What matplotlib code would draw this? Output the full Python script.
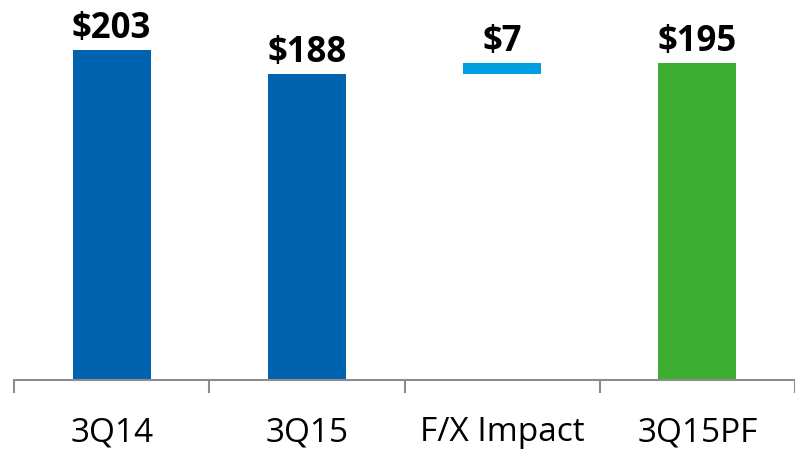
import matplotlib
matplotlib.use("Agg")
import matplotlib.pyplot as plt

categories = ["3Q14", "3Q15", "F/X Impact", "3Q15PF"]
values = [203, 188, 7, 195]
bases = [0, 0, 188, 0]
labels = ["$203", "$188", "$7", "$195"]
colors = ["#0063AF", "#0063AF", "#009FDF", "#3DAE32"]

plt.rcParams['font.family'] = ['Open Sans', 'DejaVu Sans']

fig = plt.figure(figsize=(7.95, 4.75), dpi=100)
ax = fig.add_axes([14/795, 0.2, 1 - 14/795, 0.8])

x = list(range(len(categories)))
ax.bar(x, values, bottom=bases, width=0.4, color=colors)

for xi, v, b, lab in zip(x, values, bases, labels):
    ax.annotate(lab, (xi, v + b), xytext=(0, 2.5), textcoords="offset points",
                ha="center", va="bottom", fontsize=25, fontweight="bold", color="black")

ax.set_xlim(-0.5, -0.5 + 781/196.6)
ax.set_ylim(0, 380/1.6256)

for s in ["top", "right", "left"]:
    ax.spines[s].set_visible(False)
ax.spines["bottom"].set_color("#8C8C8C")
ax.spines["bottom"].set_linewidth(1.5)
ax.set_yticks([])

ax.set_xticks(x)
ax.set_xticklabels(categories, fontsize=24)
ax.tick_params(axis="x", which="major", length=0, pad=26)
ax.set_xticks([-0.5, 0.5, 1.5, 2.5, 3.5], minor=True)
ax.tick_params(axis="x", which="minor", length=9.5, width=1.5, color="#8C8C8C")

fig.savefig("out.png", dpi=100)
